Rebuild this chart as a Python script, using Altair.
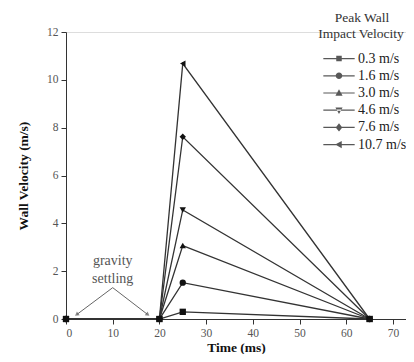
import math
import altair as alt
import pandas as pd

# ---- data ----
series = ["0.3 m/s", "1.6 m/s", "3.0 m/s", "4.6 m/s", "7.6 m/s", "10.7 m/s"]
peaks = [0.3, 1.52, 3.07, 4.56, 7.62, 10.68]
times = [0, 20, 25, 65]          # ms: start, impact start, peak, end
legend_title = ["Peak Wall", "Impact Velocity"]

annot_text = ["gravity", "settling"]
annot_text_x = [10, 10]
annot_text_y = [2.42, 1.68]
arrow_x1 = [10, 10]
arrow_y1 = [1.31, 1.31]
arrow_x2 = [2.4, 17.4]
arrow_y2 = [0.2, 0.2]

# ---- build tables ----
rows = []
for s, p in zip(series, peaks):
    vals = [0, 0, p, 0]
    for t, v in zip(times, vals):
        rows.append({"series": s, "time": t, "vel": v})
df = pd.DataFrame(rows)

W, H = 340, 287
XMAX, YMAX = 72.8, 12
pxx, pxy = W / XMAX, H / YMAX

arrows = pd.DataFrame({"x": arrow_x1, "y": arrow_y1, "x2": arrow_x2, "y2": arrow_y2})
arrows["angle"] = [
    (180 - math.degrees(math.atan2((b - a) * pxx, -(d - c) * pxy))) % 360
    for a, b, c, d in zip(arrows.x, arrows.x2, arrows.y, arrows.y2)
]
texts = pd.DataFrame({"t": annot_text, "x": annot_text_x, "y": annot_text_y})

FONT = "Liberation Serif"
plot_shapes = ["square", "circle", "triangle-up", "triangle-down", "diamond", "triangle-left"]
LINE = "M-2.85,-0.11H2.85V0.11H-2.85Z"
legend_paths = [
    LINE + "M-0.5,-0.5H0.5V0.5H-0.5Z",
    LINE + "M0.6,0A0.6,0.6,0,1,1,-0.6,0A0.6,0.6,0,1,1,0.6,0Z",
    LINE + "M0,-0.7L0.65,0.5L-0.65,0.5Z",
    LINE + "M0,0.7L0.65,-0.5L-0.65,-0.5Z",
    LINE + "M0,-0.75L0.6,0L0,0.75L-0.6,0Z",
    LINE + "M-0.7,0L0.5,-0.65L0.5,0.65Z",
]

xscale = alt.Scale(domain=[0, XMAX], nice=False)
yscale = alt.Scale(domain=[0, YMAX], nice=False)

xaxis = alt.Axis(
    title="Time (ms)", values=list(range(0, 75, 5)),
    labelExpr="datum.value % 10 === 0 ? datum.label : ''",
    tickSize={"condition": {"test": "datum.value % 10 === 0", "value": 5}, "value": 3},
    grid=False, domainColor="#333", tickColor="#333", labelColor="#555",
    labelFont=FONT, labelFontSize=11.5, labelPadding=3,
    titleFont=FONT, titleFontSize=13.5, titleFontWeight="bold", titleColor="#111",
    titlePadding=2,
)
yaxis = alt.Axis(
    title="Wall Velocity (m/s)", values=list(range(0, 13)),
    labelExpr="datum.value % 2 === 0 ? datum.label : ''",
    tickSize={"condition": {"test": "datum.value % 2 === 0", "value": 5}, "value": 3},
    grid=False, domainColor="#333", tickColor="#333", labelColor="#555",
    labelFont=FONT, labelFontSize=11.5, labelPadding=3,
    titleFont=FONT, titleFontSize=13.5, titleFontWeight="bold", titleColor="#111",
    titlePadding=16,
)

base = alt.Chart(df)
lines = base.mark_line(color="#333", strokeWidth=1.3).encode(
    x=alt.X("time:Q", scale=xscale, axis=xaxis),
    y=alt.Y("vel:Q", scale=yscale, axis=yaxis),
    detail="series:N",
    order="time:Q",
)
points = base.mark_point(filled=True, color="#111", size=40, opacity=1).encode(
    x=alt.X("time:Q", scale=xscale),
    y=alt.Y("vel:Q", scale=yscale),
    shape=alt.Shape("series:N", scale=alt.Scale(domain=series, range=plot_shapes), legend=None),
)
legend_layer = base.transform_filter("false").mark_point(
    filled=True, color="#111", size=121
).encode(
    x=alt.X("time:Q", scale=xscale),
    y=alt.Y("vel:Q", scale=yscale),
    shape=alt.Shape(
        "series:N",
        scale=alt.Scale(domain=series, range=legend_paths),
        legend=alt.Legend(
            title=None, orient="none",
            legendX=266, legendY=19.6,
            labelFont=FONT, labelFontSize=14, labelColor="#222", labelOffset=12,
            symbolFillColor="#111", symbolStrokeColor="#111", symbolStrokeWidth=0,
            symbolSize=121, rowPadding=3.2, padding=0,
        ),
    ),
)

one = pd.DataFrame({"k": [0]})
title_marks = [
    alt.Chart(one).mark_text(
        text=txt, font=FONT, fontSize=13.5, color="#333", align="center", baseline="middle"
    ).encode(x=alt.value(xp), y=alt.value(yp))
    for txt, xp, yp in zip(legend_title, [296, 295], [-13.7, 1.5])
]

arrow_lines = alt.Chart(arrows).mark_rule(color="#666", strokeWidth=1).encode(
    x=alt.X("x:Q", scale=xscale), y=alt.Y("y:Q", scale=yscale),
    x2="x2:Q", y2="y2:Q",
)
arrow_heads = alt.Chart(arrows).mark_point(
    shape="triangle", filled=True, color="#555", size=22
).encode(
    x=alt.X("x2:Q", scale=xscale), y=alt.Y("y2:Q", scale=yscale),
    angle=alt.Angle("angle:Q", scale=None),
)
annot = alt.Chart(texts).mark_text(font=FONT, fontSize=14, color="#555").encode(
    x=alt.X("x:Q", scale=xscale), y=alt.Y("y:Q", scale=yscale), text="t:N",
)

chart = alt.layer(
    lines, points, legend_layer, arrow_lines, arrow_heads, annot, *title_marks
).resolve_scale(shape="independent").properties(
    width=W, height=H,
    autosize=alt.AutoSizeParams(type="none"),
    padding={"left": 58, "top": 24, "right": 0, "bottom": 35},
).configure_view(stroke=None).configure(background="white")

chart.save("out.html", embed_options={"renderer": "svg", "actions": False})
